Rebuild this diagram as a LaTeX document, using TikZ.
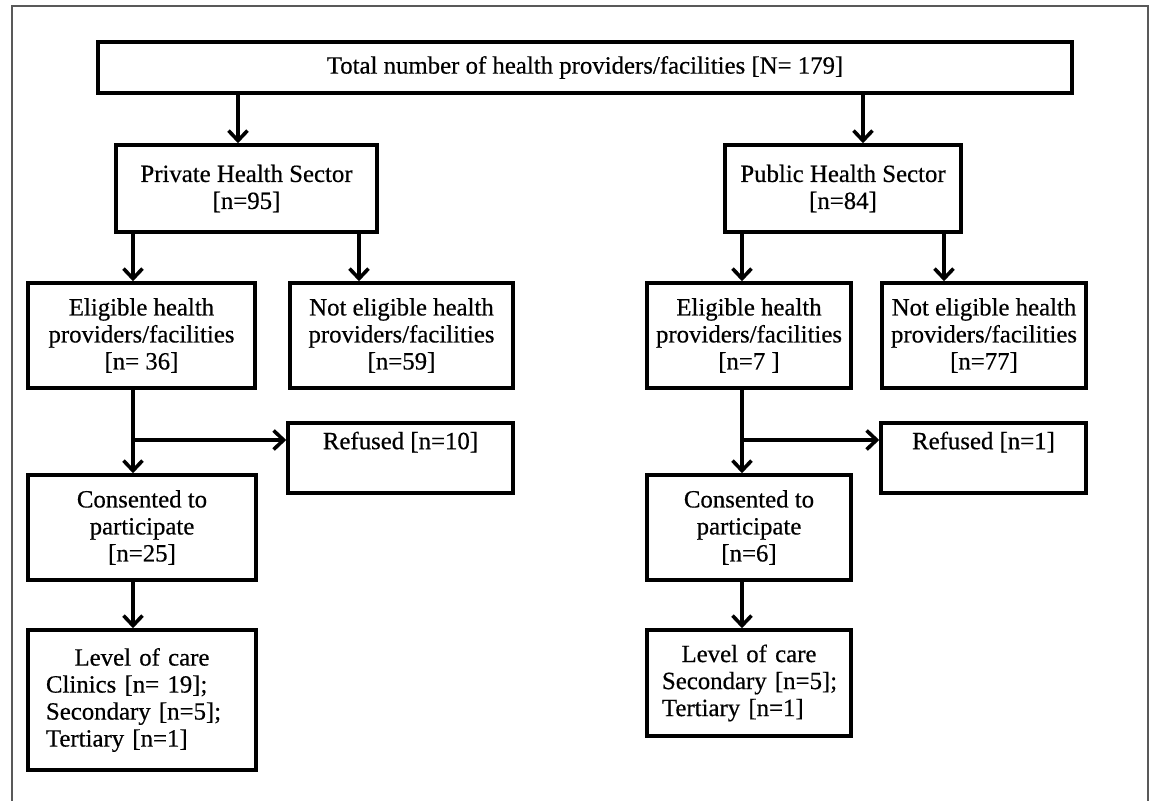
\documentclass[tikz,border=0pt]{standalone}
\usepackage{fontspec}
\setmainfont{Liberation Serif}[FakeBold=0.5]
\usetikzlibrary{arrows.meta}
\begin{document}
\begin{tikzpicture}[x=1pt,y=-1pt,
 box/.style={draw, line width=3.6pt, rectangle, inner sep=0pt, align=center, font=\fontsize{24.8}{27}\selectfont},
 arr/.style={line width=3.6pt, -{Straight Barb[length=10pt,width=19pt]}},
 frame/.style={draw=black!65, line width=1.2pt}]
\useasboundingbox (0,0) rectangle (1160,801);
\draw[frame] (12,801) -- (12,6) -- (1148,6) -- (1148,801);

\node[box, minimum width=974pt, minimum height=51pt] (top) at (585,67.5) {Total number of health providers/facilities [N= 179]};
\node[box, minimum width=261pt, minimum height=87pt] (priv) at (246.5,188.5) {Private Health Sector\\{[n=95]}};
\node[box, minimum width=236pt, minimum height=87pt] (pub) at (843,188.5) {Public Health Sector\\{[n=84]}};
\node[box, minimum width=227pt, minimum height=105pt] (el1) at (141.5,335.5) {Eligible health\\providers/facilities\\{[n= 36]}};
\node[box, minimum width=223pt, minimum height=105pt] (ne1) at (401.5,335.5) {Not eligible health\\providers/facilities\\{[n=59]}};
\node[box, minimum width=204pt, minimum height=105pt] (el2) at (749,335.5) {Eligible health\\providers/facilities\\{[n=7 ]}};
\node[box, minimum width=204pt, minimum height=105pt] (ne2) at (984,335.5) {Not eligible health\\providers/facilities\\{[n=77]}};
\node[box, minimum width=225pt, minimum height=70pt] (ref1) at (400.5,458) {Refused [n=10]\\\strut};
\node[box, minimum width=205pt, minimum height=70pt] (ref2) at (983.5,458) {Refused [n=1]\\\strut};
\node[box, minimum width=228pt, minimum height=105pt] (co1) at (142,527.5) {Consented to\\participate\\{[n=25]}};
\node[box, minimum width=204pt, minimum height=105pt] (co2) at (749,527.5) {Consented to\\participate\\{[n=6]}};
\node[box, minimum width=228pt, minimum height=140pt, text width=192pt, align=left] (lv1) at (142,700) {\makebox[192pt]{Level of care}\\\mbox{Clinics [n= 19];}\\\mbox{Secondary [n=5];}\\\mbox{Tertiary [n=1]}};
\node[box, minimum width=204pt, minimum height=106pt, text width=174pt, align=left] (lv2) at (749,683) {\makebox[174pt]{Level of care}\\\mbox{Secondary [n=5];}\\\mbox{Tertiary [n=1]}};

\coordinate (xa) at (238,0);
\coordinate (xb) at (863,0);
\coordinate (xc) at (133,0);
\coordinate (xd) at (359,0);
\coordinate (xe) at (742,0);
\coordinate (xf) at (944,0);
\coordinate (b1) at (133,440);
\coordinate (b2) at (742,440);

\draw[arr] (top.south -| xa) -- (priv.north -| xa);
\draw[arr] (top.south -| xb) -- (pub.north -| xb);
\draw[arr] (priv.south -| xc) -- (el1.north -| xc);
\draw[arr] (priv.south -| xd) -- (ne1.north -| xd);
\draw[arr] (pub.south -| xe) -- (el2.north -| xe);
\draw[arr] (pub.south -| xf) -- (ne2.north -| xf);
\draw[arr] (el1.south -| xc) -- (co1.north -| xc);
\draw[arr] (el2.south -| xe) -- (co2.north -| xe);
\draw[arr] (b1) -- (ref1.west |- b1);
\draw[arr] (b2) -- (ref2.west |- b2);
\draw[arr] (co1.south -| xc) -- (lv1.north -| xc);
\draw[arr] (co2.south -| xe) -- (lv2.north -| xe);
\end{tikzpicture}
\end{document}
